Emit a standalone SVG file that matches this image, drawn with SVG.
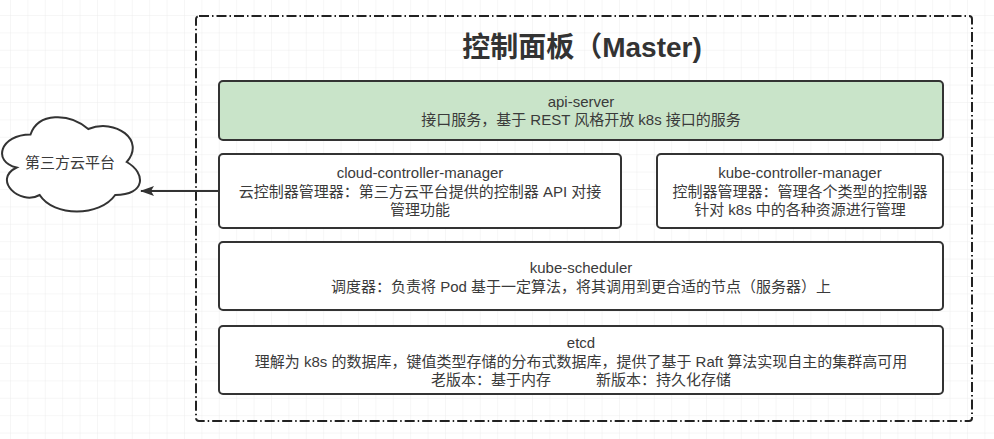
<svg xmlns="http://www.w3.org/2000/svg" width="994" height="439" viewBox="0 0 994 439">
  <style>
    .box { fill: #ffffff; stroke: #333333; stroke-width: 2; }
    .api { fill: #c9e4c9; stroke: #333333; stroke-width: 2; }
    .t { font-family: "Liberation Sans", "Noto Sans CJK SC", sans-serif; font-size: 15px; fill: #3a3a3a; text-anchor: middle; }
    .title { font-family: "Liberation Sans", "Noto Sans CJK SC", sans-serif; font-size: 28px; font-weight: bold; fill: #333333; text-anchor: middle; }
    .frame { fill: none; stroke: #222222; stroke-width: 2; stroke-dasharray: 10 3 1.5 3; }
    .conn { stroke: #333333; stroke-width: 2; fill: none; }
  </style>
  <defs>
    <pattern id="grid" x="10" y="15" width="17.4" height="17.4" patternUnits="userSpaceOnUse">
      <path d="M 0 0 L 17.4 0 M 0 0 L 0 17.4" stroke="#ededed" stroke-width="1" fill="none"/>
    </pattern>
    <marker id="arrow" viewBox="0 0 14 10" refX="13" refY="5" markerWidth="14" markerHeight="10" markerUnits="userSpaceOnUse" orient="auto">
      <path d="M 0 0 L 14 5 L 0 10 L 3 5 Z" fill="#333333"/>
    </marker>
  </defs>
  <rect x="0" y="0" width="994" height="439" fill="#ffffff"/>
  <rect x="0" y="0" width="994" height="439" fill="url(#grid)"/>

  <g id="master-frame">
    <rect class="frame" x="196" y="16" width="776" height="405" rx="3"/>
    <text class="title" x="582" y="57">控制面板（Master)</text>
  </g>

  <g id="cloud-platform">
    <path d="M 30.5 134.5 C 0 134.5 -8 162 16.6 167.5 C -8 179.6 19.7 206 39.7 195 C 53.6 217 99.8 217 115.2 195 C 146 195 146 173 126.75 162 C 146 140 115.2 118 88.25 129 C 69 112.5 38.2 112.5 30.5 134.5 Z" fill="#ffffff" stroke="#333333" stroke-width="2"/>
    <text class="t" x="70" y="168">第三方云平台</text>
  </g>

  <g id="api-server">
    <rect class="api" x="219" y="81" width="724" height="59" rx="4"/>
    <text class="t" x="581" y="107">api-server</text>
    <text class="t" x="581" y="125">接口服务，基于 REST 风格开放 k8s 接口的服务</text>
  </g>

  <g id="cloud-controller-manager">
    <rect class="box" x="219" y="154" width="402" height="74" rx="4"/>
    <text class="t" x="420" y="178">cloud-controller-manager</text>
    <text class="t" x="420" y="197">云控制器管理器：第三方云平台提供的控制器 API 对接</text>
    <text class="t" x="420" y="215">管理功能</text>
  </g>

  <g id="kube-controller-manager">
    <rect class="box" x="657" y="154" width="286" height="74" rx="4"/>
    <text class="t" x="800" y="178">kube-controller-manager</text>
    <text class="t" x="800" y="197">控制器管理器：管理各个类型的控制器</text>
    <text class="t" x="800" y="215">针对 k8s 中的各种资源进行管理</text>
  </g>

  <g id="kube-scheduler">
    <rect class="box" x="219" y="242" width="724" height="68" rx="4"/>
    <text class="t" x="581" y="273">kube-scheduler</text>
    <text class="t" x="581" y="292">调度器：负责将 Pod 基于一定算法，将其调用到更合适的节点（服务器）上</text>
  </g>

  <g id="etcd">
    <rect class="box" x="219" y="326" width="724" height="68" rx="4"/>
    <text class="t" x="581" y="348">etcd</text>
    <text class="t" x="581" y="367">理解为 k8s 的数据库，键值类型存储的分布式数据库，提供了基于 Raft 算法实现自主的集群高可用</text>
    <text class="t" x="431" y="385" style="text-anchor:start">老版本：基于内存</text>
    <text class="t" x="596" y="385" style="text-anchor:start">新版本：持久化存储</text>
  </g>

  <g id="connectors">
    <line class="conn" x1="219" y1="191" x2="141" y2="191" marker-end="url(#arrow)"/>
  </g>
</svg>
